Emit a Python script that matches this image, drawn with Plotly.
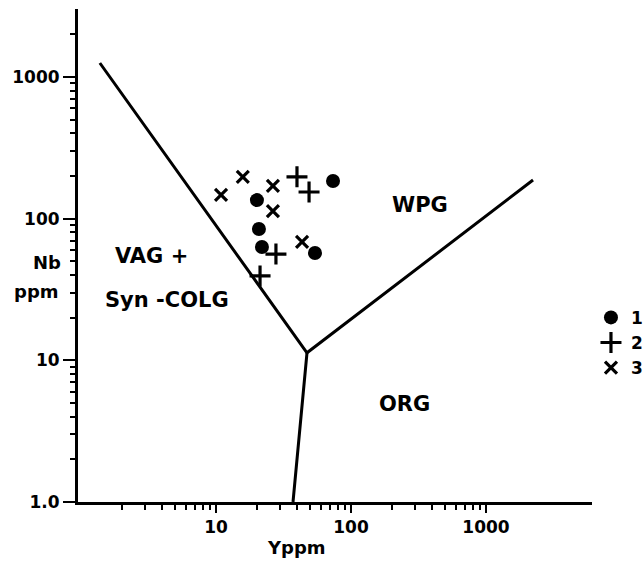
import plotly.graph_objects as go

# ---- data ----
g1_y = [73.6, 20.1, 20.8, 21.9, 54.1]       # Y ppm, group 1 (dots)
g1_nb = [184, 135, 84.5, 63.0, 57.1]         # Nb ppm
g2_y = [39.8, 48.9, 27.8, 21.2]              # group 2 (plus)
g2_nb = [197, 154, 56.2, 39.4]
g3_y = [10.9, 15.8, 26.4, 26.4, 43.4]        # group 3 (x)
g3_nb = [147, 197, 170, 113, 68.4]

# discrimination boundaries (Y, Nb)
bound_a_y = [1.38, 47.2, 2230]
bound_a_nb = [1253, 11.3, 187]
bound_b_y = [47.2, 37.2]
bound_b_nb = [11.3, 1.0]

x_ticks = [10, 100, 1000]
x_ticktext = ["10", "100", "1000"]
y_ticks = [1, 10, 100, 1000]
y_ticktext = ["1.0", "10", "100", "1000"]
x_minor = [m * d for d in (1, 10, 100) for m in range(2, 10)]
y_minor = [m * d for d in (1, 10, 100) for m in range(2, 10)] + [2000]

FONT = "DejaVu Sans"
fig = go.Figure()

fig.add_trace(go.Scatter(x=bound_a_y, y=bound_a_nb, mode="lines",
                         line=dict(color="black", width=3), showlegend=False, hoverinfo="skip"))
fig.add_trace(go.Scatter(x=bound_b_y, y=bound_b_nb, mode="lines",
                         line=dict(color="black", width=3), showlegend=False, hoverinfo="skip"))

fig.add_trace(go.Scatter(x=g1_y, y=g1_nb, mode="markers", name="1",
                         marker=dict(symbol="circle", size=14, color="black")))
fig.add_trace(go.Scatter(x=g2_y, y=g2_nb, mode="markers", name="2",
                         marker=dict(symbol="cross-thin", size=15,
                                     line=dict(color="black", width=3.2), color="black")))
fig.add_trace(go.Scatter(x=g3_y, y=g3_nb, mode="markers", name="3",
                         marker=dict(symbol="x-thin", size=12,
                                     line=dict(color="black", width=3.2), color="black")))

lab_font = dict(family=FONT, size=21, color="black", weight="bold")
for txt, lx, ly in [("VAG +", 0.519, 1.736), ("Syn -COLG", 0.637, 1.426),
                    ("WPG", 2.511, 2.096), ("ORG", 2.393, 0.692)]:
    fig.add_annotation(x=lx, y=ly, xref="x", yref="y", text=txt, showarrow=False,
                       xanchor="center", yanchor="middle", font=lab_font)

ax_font = dict(family=FONT, size=18, color="black", weight="bold")
for txt, px, py in [("Nb", -0.0603, 0.4848), ("ppm", -0.0798, 0.426),
                    ("Yppm", 0.426, -0.0913)]:
    fig.add_annotation(x=px, y=py, xref="paper", yref="paper", text=txt,
                       showarrow=False, xanchor="center", yanchor="middle", font=ax_font)

tick_font = dict(family=FONT, size=17, color="black", weight="bold")
fig.update_xaxes(type="log", range=[-0.022, 3.785], showgrid=False, zeroline=False,
                 showline=True, linewidth=3, linecolor="black",
                 tickmode="array", tickvals=x_ticks, ticktext=x_ticktext,
                 ticks="outside", ticklen=8, tickwidth=2, tickcolor="black",
                 tickfont=tick_font,
                 minor=dict(tickmode="array", tickvals=x_minor, ticks="outside",
                            ticklen=5, tickwidth=2, tickcolor="black", showgrid=False))
fig.update_yaxes(type="log", range=[0, 3.479], showgrid=False, zeroline=False,
                 showline=True, linewidth=3, linecolor="black",
                 tickmode="array", tickvals=y_ticks, ticktext=y_ticktext,
                 ticks="outside", ticklen=12, tickwidth=2, tickcolor="black",
                 tickfont=tick_font,
                 minor=dict(tickmode="array", tickvals=y_minor, ticks="outside",
                            ticklen=5, tickwidth=2, tickcolor="black", showgrid=False))

fig.update_layout(
    width=643, height=563,
    margin=dict(l=78, r=51, t=9, b=61, autoexpand=False),
    paper_bgcolor="white", plot_bgcolor="white",
    showlegend=True,
    legend=dict(x=0.998, y=0.41, xanchor="left", yanchor="top",
                font=dict(family=FONT, size=17, color="black", weight="bold"),
                bgcolor="rgba(0,0,0,0)", itemsizing="trace", tracegroupgap=0),
)

fig.write_html("out.html", config={"displayModeBar": False},
               post_script="document.body.style.margin='0';document.body.style.overflow='hidden';")
